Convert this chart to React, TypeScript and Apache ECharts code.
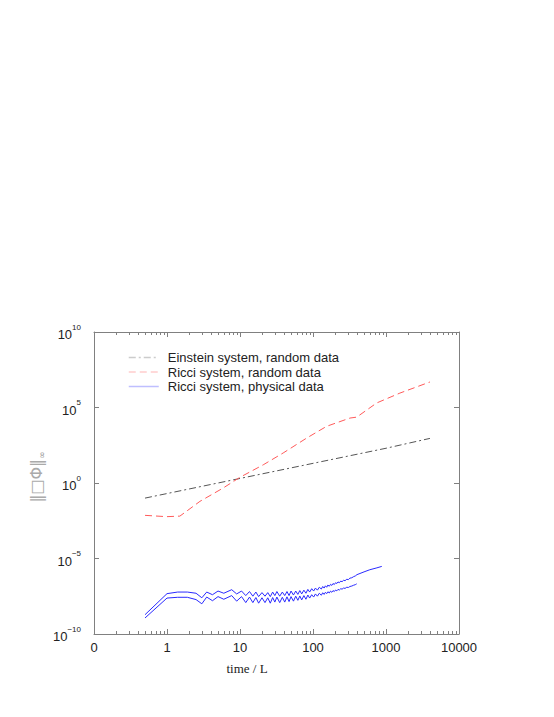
import React, { useEffect, useRef } from 'react';
import * as echarts from 'echarts';

// Einstein system, random data
const einsteinX = [0.5, 1, 10, 100, 1000, 4000];
const einsteinY = [0.1, 0.2, 2, 20, 200, 900];

// Ricci system, random data
const ricciRandX = [0.5, 0.99, 1.5, 2.83, 5.9, 10, 20.8, 39, 82, 154, 321, 397, 746, 1550, 4000];
const ricciRandY = [0.0072, 0.0059, 0.0064, 0.061, 0.47, 2.4, 16, 97, 950, 5700, 2e4, 2.3e4, 2e5, 9e5, 4.9e6];

// Ricci system, physical data (upper curve)
const physAX = [0.5, 1.0, 1.4, 1.9, 2.5, 3.0, 3.5, 4.2, 5.0, 6.0, 7.7, 9, 10.5, 12, 13.5, 15, 16.5, 18, 20, 22, 24, 26, 28, 30, 32, 35, 38, 41, 44, 47, 50, 54, 58, 62, 66, 70, 75, 80, 85, 90, 96, 102, 108, 115, 122, 130, 136, 142, 148, 154, 160, 167, 174, 181, 188, 196, 204, 212, 220, 230, 240, 250, 262, 275, 290, 305, 320, 340, 360, 380, 400, 500, 600, 750, 875];
const physAY = [1.9e-9, 4.7e-8, 6e-8, 6e-8, 5e-8, 2.5e-8, 6e-8, 4e-8, 7e-8, 5e-8, 8.6e-8, 4.5e-8, 7e-8, 3.5e-8, 6.5e-8, 3.2e-8, 6e-8, 3e-8, 5.5e-8, 3.2e-8, 5.5e-8, 3e-8, 6e-8, 3.5e-8, 6.5e-8, 3.2e-8, 6e-8, 3.5e-8, 6.5e-8, 3.5e-8, 7e-8, 3.8e-8, 7e-8, 4.2e-8, 7.5e-8, 4.5e-8, 8e-8, 5e-8, 9e-8, 6e-8, 1e-7, 7e-8, 1.1e-7, 8e-8, 1.25e-7, 9.5e-8, 1.4e-7, 1.1e-7, 1.55e-7, 1.25e-7, 1.75e-7, 1.45e-7, 1.95e-7, 1.65e-7, 2.2e-7, 1.9e-7, 2.5e-7, 2.2e-7, 2.8e-7, 2.5e-7, 3.2e-7, 2.9e-7, 3.6e-7, 3.4e-7, 4.2e-7, 4e-7, 5e-7, 5.3e-7, 6.3e-7, 7e-7, 8.5e-7, 1.3e-6, 1.8e-6, 2.4e-6, 3e-6];

// Ricci system, physical data (lower curve)
const physBX = [0.5, 1.0, 1.4, 1.9, 2.5, 3.0, 3.5, 4.2, 5.0, 6.0, 7.7, 9, 10.5, 12, 13.5, 15, 16.5, 18, 20, 22, 24, 26, 28, 30, 32, 35, 38, 41, 44, 47, 50, 54, 58, 62, 66, 70, 75, 80, 85, 90, 96, 102, 108, 115, 122, 130, 136, 142, 148, 154, 160, 167, 174, 181, 188, 196, 204, 212, 220, 230, 240, 250, 262, 275, 290, 305, 320, 340, 360, 380, 397];
const physBY = [1.15e-9, 2.4e-8, 2.7e-8, 2.7e-8, 1.9e-8, 1e-8, 2.8e-8, 1.6e-8, 3e-8, 2e-8, 3.5e-8, 1.5e-8, 3e-8, 1.2e-8, 2.8e-8, 1.2e-8, 2.6e-8, 1.1e-8, 2.5e-8, 1.2e-8, 2.5e-8, 1.1e-8, 2.6e-8, 1.3e-8, 2.8e-8, 1.2e-8, 2.7e-8, 1.3e-8, 2.9e-8, 1.4e-8, 3e-8, 1.5e-8, 3.2e-8, 1.7e-8, 3.3e-8, 1.8e-8, 3.5e-8, 2e-8, 3.8e-8, 2.4e-8, 4e-8, 2.8e-8, 4.5e-8, 3.2e-8, 5e-8, 3.7e-8, 5.4e-8, 4.2e-8, 5.8e-8, 4.7e-8, 6.3e-8, 5.2e-8, 6.9e-8, 5.8e-8, 7.5e-8, 6.5e-8, 8.2e-8, 7.2e-8, 9e-8, 8.2e-8, 1e-7, 9.3e-8, 1.1e-7, 1.05e-7, 1.25e-7, 1.2e-7, 1.4e-7, 1.5e-7, 1.7e-7, 1.85e-7, 2.1e-7];

// minor tick positions for the log x axis
const decades = [0.1, 1, 10, 100, 1000];
const minorMultipliers = [2, 3, 4, 5, 6, 7, 8, 9];

const seriesNames = [
  'Einstein system, random data',
  'Ricci system, random data',
  'Ricci system, physical data',
];

const zip = (xs: number[], ys: number[]) => xs.map((x, i) => [x, ys[i]]);

const AXIS_COLOR = '#808080';

export default function App() {
  const ref = useRef<HTMLDivElement>(null);

  useEffect(() => {
    if (!ref.current) return;
    const chart = echarts.init(ref.current, undefined, { renderer: 'svg' });

    const minorTicks: number[][] = [];
    decades.forEach((d) => minorMultipliers.forEach((m) => minorTicks.push([d * m, 1])));

    const yFormatter = (v: number) => {
      const e = Math.round(Math.log10(v));
      const s = e < 0 ? '\u2212' + Math.abs(e) : String(e);
      return '{b|10}{s|' + s + '}';
    };
    const xFormatter = (v: number) => (v < 0.5 ? '0' : String(Math.round(v)));

    const option: any = {
      animation: false,
      backgroundColor: '#ffffff',
      grid: { left: 94, right: 95, top: 332, bottom: 83, containLabel: false },
      legend: {
        data: seriesNames,
        orient: 'vertical',
        left: 128,
        top: 351,
        padding: 0,
        itemWidth: 30,
        itemHeight: 14,
        itemGap: 1.5,
        lineStyle: { opacity: 0.3, width: 1.5 },
        itemStyle: { opacity: 0 },
        textStyle: {
          fontFamily: 'Liberation Sans',
          fontSize: 13,
          color: '#222',
          padding: [0, 0, 0, 4],
        },
        selectedMode: false,
      },
      xAxis: [
        {
          type: 'log',
          logBase: 10,
          min: 0.1,
          max: 10000,
          interval: 1,
          position: 'bottom',
          axisLine: { show: true, lineStyle: { color: AXIS_COLOR } },
          axisTick: { show: true, inside: true, length: 5, lineStyle: { color: AXIS_COLOR } },
          axisLabel: {
            formatter: xFormatter,
            fontFamily: 'Liberation Sans',
            fontSize: 13,
            color: '#222',
            margin: 7,
          },
          splitLine: { show: false },
        },
        {
          type: 'log',
          logBase: 10,
          min: 0.1,
          max: 10000,
          interval: 1,
          position: 'top',
          axisLine: { show: true, lineStyle: { color: AXIS_COLOR } },
          axisTick: { show: true, inside: true, length: 5, lineStyle: { color: AXIS_COLOR } },
          axisLabel: { show: false },
          splitLine: { show: false },
        },
      ],
      yAxis: [
        {
          type: 'log',
          logBase: 10,
          min: 1e-10,
          max: 1e10,
          interval: 5,
          position: 'left',
          axisLine: { show: true, lineStyle: { color: AXIS_COLOR } },
          axisTick: { show: true, inside: true, length: 5, lineStyle: { color: AXIS_COLOR } },
          axisLabel: {
            formatter: yFormatter,
            margin: 13,
            rich: {
              b: { fontFamily: 'Liberation Sans', fontSize: 13, color: '#222', lineHeight: 18, verticalAlign: 'bottom' },
              s: { fontFamily: 'Liberation Sans', fontSize: 8, color: '#222', lineHeight: 18, verticalAlign: 'top' },
            },
          },
          splitLine: { show: false },
        },
        {
          type: 'log',
          logBase: 10,
          min: 1e-10,
          max: 1e10,
          interval: 5,
          position: 'right',
          axisLine: { show: true, lineStyle: { color: AXIS_COLOR } },
          axisTick: { show: true, inside: true, length: 5, lineStyle: { color: AXIS_COLOR } },
          axisLabel: { show: false },
          splitLine: { show: false },
        },
      ],
      graphic: [
        {
          type: 'text',
          x: 247,
          y: 668,
          style: {
            text: 'time / L',
            font: '13px "Liberation Serif"',
            fill: '#222',
            align: 'center',
            verticalAlign: 'middle',
          },
        },
        {
          type: 'text',
          x: 36,
          y: 477,
          rotation: Math.PI / 2,
          style: {
            text: '{m|\u2016\u25A1\u03A6\u2016}{s|\u221E}',
            align: 'center',
            verticalAlign: 'middle',
            rich: {
              m: { font: '16px "DejaVu Sans"', fill: '#aaa', lineHeight: 20, verticalAlign: 'middle' },
              s: { font: '9px "DejaVu Sans"', fill: '#999', lineHeight: 20, verticalAlign: 'bottom' },
            },
          },
        },
      ],
      series: [
        {
          name: seriesNames[0],
          type: 'line',
          data: zip(einsteinX, einsteinY),
          symbol: 'none',
          lineStyle: { color: '#555555', width: 1, type: [7, 3, 2, 3] },
          itemStyle: { color: '#555555' },
        },
        {
          name: seriesNames[1],
          type: 'line',
          data: zip(ricciRandX, ricciRandY),
          symbol: 'none',
          lineStyle: { color: '#ff5a5a', width: 1, type: [7, 4] },
          itemStyle: { color: '#ff5a5a' },
        },
        {
          name: seriesNames[2],
          type: 'line',
          data: zip(physAX, physAY),
          symbol: 'none',
          lineStyle: { color: '#2a2aff', width: 1 },
          itemStyle: { color: '#2a2aff' },
        },
        {
          name: seriesNames[2],
          type: 'line',
          data: zip(physBX, physBY),
          symbol: 'none',
          lineStyle: { color: '#2a2aff', width: 1 },
          itemStyle: { color: '#2a2aff' },
        },
        {
          name: 'minorTicks',
          type: 'custom',
          silent: true,
          data: minorTicks,
          renderItem: (params: any, api: any) => {
            const p = api.coord([api.value(0), api.value(1)]);
            const cs = params.coordSys;
            const top = cs.y;
            const bottom = cs.y + cs.height;
            const x = Math.round(p[0]) + 0.5;
            return {
              type: 'group',
              children: [
                { type: 'line', shape: { x1: x, y1: bottom, x2: x, y2: bottom - 3 }, style: { stroke: AXIS_COLOR, lineWidth: 1 } },
                { type: 'line', shape: { x1: x, y1: top, x2: x, y2: top + 3 }, style: { stroke: AXIS_COLOR, lineWidth: 1 } },
              ],
            };
          },
        },
      ],
    };

    chart.setOption(option);
    return () => chart.dispose();
  }, []);

  return <div ref={ref} style={{ width: 554, height: 717, position: 'absolute', left: 0, top: 0 }} />;
}
